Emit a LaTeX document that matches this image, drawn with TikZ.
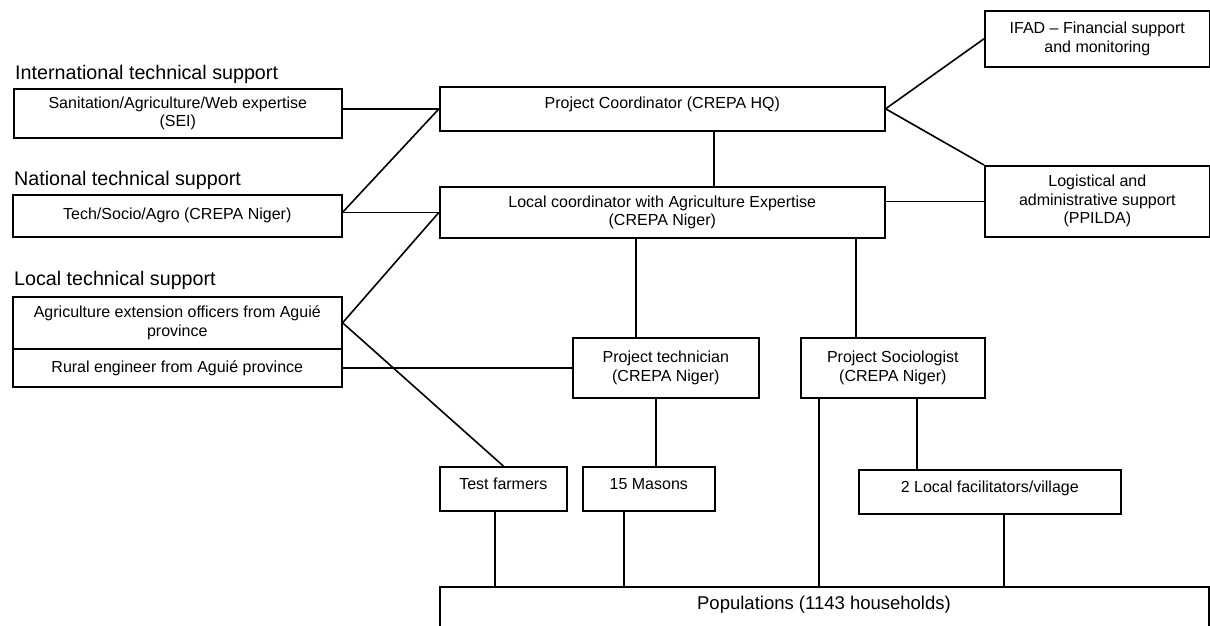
\documentclass[tikz,border=0pt]{standalone}
\usepackage{fontspec}
\setmainfont{Liberation Sans}
\usetikzlibrary{calc}
\newcommand{\upby}[2]{\raisebox{#1}[\height][\depth]{#2}}
\begin{document}
\begin{tikzpicture}[x=1pt,y=-1pt,
  box/.style={draw, line width=1.6pt, inner sep=0pt, align=center, anchor=north west,
    font=\fontsize{16}{18.5}\selectfont},
  hdr/.style={anchor=west, inner sep=0pt, font=\fontsize{19.7}{22}\selectfont},
  link/.style={line width=1.6pt}]
\useasboundingbox (0,0) rectangle (1210,626);
\clip (0,0) rectangle (1210,626);
% headers
\node[hdr] (hint) at (15,74) {International technical support};
\node[hdr] (hnat) at (14,180) {National technical support};
\node[hdr] (hloc) at (14,280) {Local technical support};
% left boxes
\node[box, minimum width=328pt, minimum height=49pt] (sei) at (13,88) {Sanitation/Agriculture/Web expertise\\(SEI)};
\node[box, minimum width=329pt, minimum height=42pt] (tech) at (12,194) {Tech/Socio/Agro (CREPA Niger)};
\node[box, minimum width=329pt, minimum height=52pt] (agri) at (12,296) {Agriculture extension officers from Agui\'e\\province};
\node[box, minimum width=329pt, minimum height=38pt] (rural) at (12,348) {Rural engineer from Agui\'e province};
% centre boxes
\node[box, minimum width=445pt, minimum height=44pt] (pc) at (439,86) {\upby{4pt}{Project Coordinator (CREPA HQ)}};
\node[box, minimum width=445pt, minimum height=51pt] (lc) at (439,186) {Local coordinator with Agriculture Expertise\\(CREPA Niger)};
% right boxes
\node[box, minimum width=225pt, minimum height=56pt] (ifad) at (984,10) {IFAD -- Financial support\\and monitoring};
\node[box, minimum width=225pt, minimum height=71pt] (logi) at (984,165) {Logistical and\\administrative support\\(PPILDA)};
% middle level
\node[box, minimum width=186pt, minimum height=60pt] (techn) at (572,337) {Project technician\\(CREPA Niger)};
\node[box, minimum width=184pt, minimum height=60pt] (soc) at (800,337) {Project Sociologist\\(CREPA Niger)};
% lower level
\node[box, minimum width=127pt, minimum height=44pt] (test) at (439,466) {\upby{5pt}{Test farmers}};
\node[box, minimum width=132pt, minimum height=44pt] (masons) at (582,466) {\upby{5pt}{15 Masons}};
\node[box, minimum width=262pt, minimum height=44pt] (facil) at (858,469) {\upby{3pt}{2 Local facilitators/village}};
% populations (cut by the page bottom)
\node[box, minimum width=769pt, minimum height=80pt] (pop) at (439,586) {};
\node[inner sep=0pt, font=\fontsize{18.5}{22}\selectfont] (poptxt) at (824,605) {Populations (1143 households)};
% connectors
\draw[link] (sei.east |- pc.west) -- (pc.west);
\draw[link] (tech.east |- lc.west) -- (lc.west);
\draw[link] (tech.east |- lc.west) -- (pc.west);
\draw[link] (agri.east) -- (lc.west);
\draw[link] (agri.east) -- (test.north);
\draw[link] (rural.east) -- (techn.west);
\draw[link] ([xshift=275pt]pc.south west) -- ([xshift=275pt]pc.south west |- lc.north);
\draw[link] (pc.east) -- (ifad.west);
\draw[link] (pc.east) -- (logi.north west);
\draw[link] (lc.east |- logi.west) -- (logi.west);
\draw[link] ([xshift=64pt]techn.north west) -- ([xshift=64pt]techn.north west |- lc.south);
\draw[link] ([xshift=56pt]soc.north west) -- ([xshift=56pt]soc.north west |- lc.south);
\draw[link] ([xshift=84pt]techn.south west) -- ([xshift=84pt]techn.south west |- masons.north);
\draw[link] ([xshift=19pt]soc.south west) -- ([xshift=19pt]soc.south west |- pop.north);
\draw[link] ([xshift=117pt]soc.south west) -- ([xshift=117pt]soc.south west |- facil.north);
\draw[link] ([xshift=56pt]test.south west) -- ([xshift=56pt]test.south west |- pop.north);
\draw[link] ([xshift=42pt]masons.south west) -- ([xshift=42pt]masons.south west |- pop.north);
\draw[link] ([xshift=146pt]facil.south west) -- ([xshift=146pt]facil.south west |- pop.north);
\end{tikzpicture}
\end{document}
